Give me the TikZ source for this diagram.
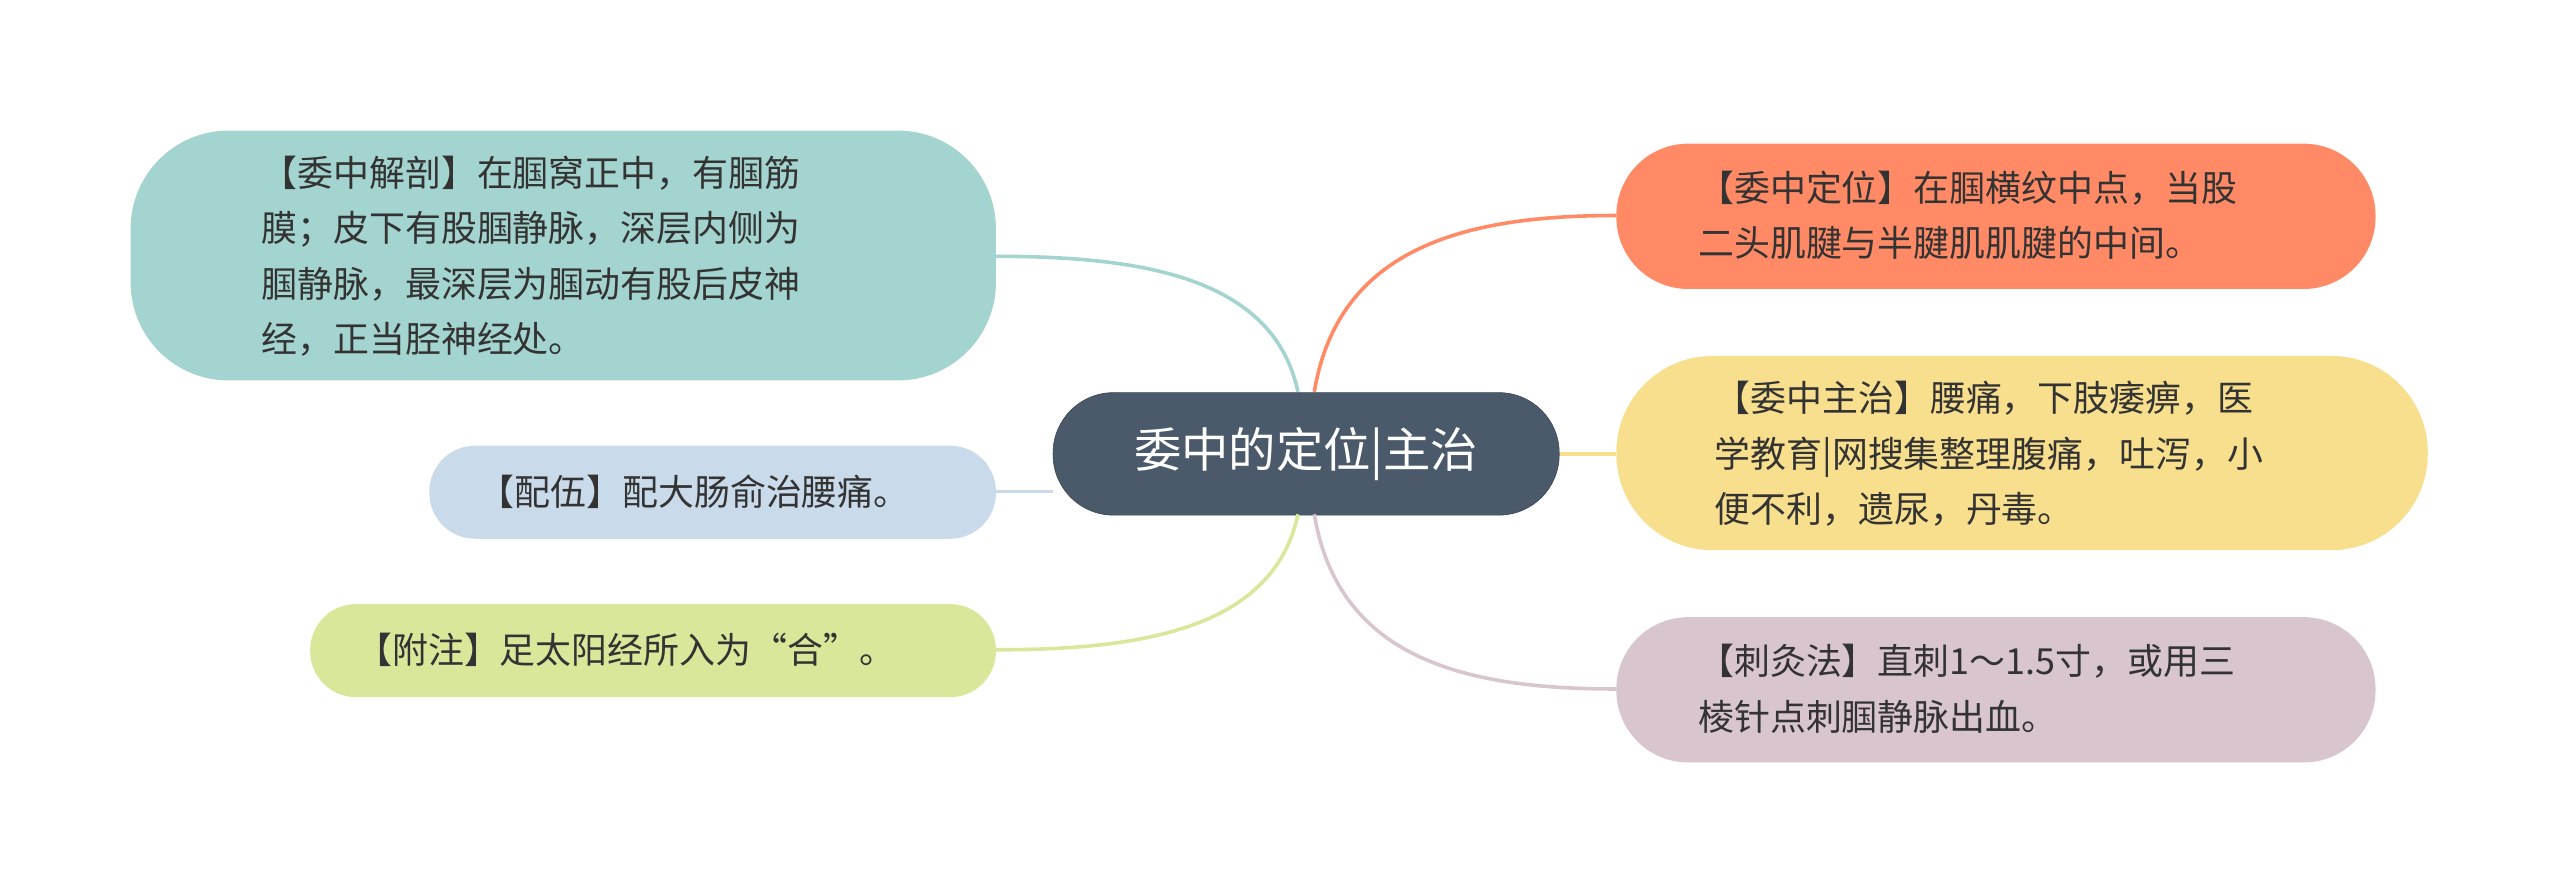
\documentclass[tikz,border=0pt]{standalone}
\usepackage{fontspec}
\setmainfont{Noto Sans CJK SC}
\begin{document}
\begin{tikzpicture}[x=1pt,y=-1pt,
 box/.style={rounded corners=28pt,inner sep=0pt,font=\fontsize{22}{34}\selectfont,text=black!80,align=left},
 conn/.style={line width=2.2pt}]
\useasboundingbox (0,0) rectangle (1568,548);
\definecolor{cC}{HTML}{4A5A6A}\definecolor{cT}{HTML}{A3D4CF}\definecolor{cB}{HTML}{C9DAEA}
\definecolor{cG}{HTML}{D9E79A}\definecolor{cO}{HTML}{FF8A65}\definecolor{cY}{HTML}{F7DF8E}\definecolor{cM}{HTML}{D8C5CE}
\fill[cT,rounded corners=60pt] (80,80) rectangle (610,233);
\node[box,anchor=west] (l1) at (160,157) {【委中解剖】在腘窝正中，有腘筋\\膜；皮下有股腘静脉，深层内侧为\\腘静脉，最深层为腘动有股后皮神\\经，正当胫神经处。};
\fill[cB,rounded corners=28pt] (263,273) rectangle (610,330);
\node[box,anchor=west] (l2) at (293,301) {【配伍】配大肠俞治腰痛。};
\fill[cG,rounded corners=28pt] (190,370) rectangle (610,427);
\node[box,anchor=west] (l3) at (218,398) {【附注】足太阳经所入为“合”。};
\fill[cO,rounded corners=44pt] (990,88) rectangle (1455,177);
\node[box,anchor=west] (r1) at (1040,132) {【委中定位】在腘横纹中点，当股\\二头肌腱与半腱肌肌腱的中间。};
\fill[cY,rounded corners=59pt] (990,218) rectangle (1487,337);
\node[box,anchor=west] (r2) at (1050,278) {【委中主治】腰痛，下肢痿痹，医\\学教育|网搜集整理腹痛，吐泻，小\\便不利，遗尿，丹毒。};
\fill[cM,rounded corners=44pt] (990,378) rectangle (1455,467);
\node[box,anchor=west] (r3) at (1040,422) {【刺灸法】直刺1～1.5寸，或用三\\棱针点刺腘静脉出血。};
\node[fill=cC,draw=cC!80!black,rounded corners=37pt,minimum width=310pt,minimum height=75pt,text=white,font=\fontsize{29}{34}\selectfont] (c) at (800,278) {委中的定位|主治};
\coordinate (e1) at (610,157);\coordinate (e2) at (610,301);\coordinate (e3) at (610,398);
\coordinate (f1) at (990,132);\coordinate (f2) at (990,278);\coordinate (f3) at (990,422);
\draw[conn,cT] (795,240) .. controls (780,170) and (700,157) .. (e1);
\draw[conn,cB] (c.west|-e2) -- (e2);
\draw[conn,cG] (795,315) .. controls (780,385) and (700,398) .. (e3);
\draw[conn,cO] (805,240) .. controls (820,150) and (900,132) .. (f1);
\draw[conn,cY] (c.east) -- (f2);
\draw[conn,cM] (805,315) .. controls (820,405) and (900,422) .. (f3);
\end{tikzpicture}
\end{document}
